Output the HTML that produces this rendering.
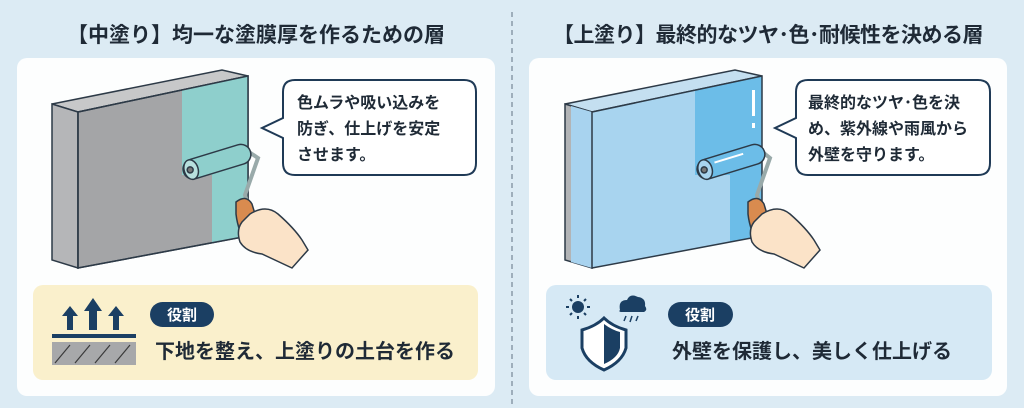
<!DOCTYPE html>
<html><head><meta charset="utf-8"><style>
html,body{margin:0;padding:0;background:#dcebf4;}
svg{display:block}
text{font-family:"Liberation Sans","Noto Sans CJK JP",sans-serif;font-weight:bold;fill:#1f2a36}
</style></head><body>
<svg width="1024" height="408" viewBox="0 0 1024 408" xmlns="http://www.w3.org/2000/svg">
<rect width="1024" height="408" fill="#dcebf4"/>
<line x1="512" y1="12" x2="512" y2="408" stroke="#8a9aa8" stroke-width="1.5" stroke-dasharray="5,4"/>
<text x="256" y="42" font-size="21" text-anchor="middle">【中塗り】均一な塗膜厚を作るための層</text>
<text x="768" y="42" font-size="21" text-anchor="middle" letter-spacing="-0.5">【上塗り】最終的なツヤ･色･耐候性を決める層</text>

<!-- LEFT CARD -->
<rect x="17" y="58" width="478" height="338" rx="10" fill="#fdfefe"/>
<polygon points="52,104 222,70 248,76 78,112" fill="#c7c8c9" stroke="#2d3a47" stroke-width="1.5"/>
<polygon points="52,104 78,112 78,268 52,260" fill="#b5b6b8" stroke="#2d3a47" stroke-width="1.5"/>
<polygon points="78,112 248,76 248,236 78,268" fill="#a4a5a7" stroke="#2d3a47" stroke-width="1.5"/>
<polygon points="182,90 248,76 248,236 212,243 212,175 182,175" fill="#8ecfcc"/>
<polygon points="78,112 248,76 248,236 78,268" fill="none" stroke="#2d3a47" stroke-width="1.5"/>
<g stroke="#2d3a47" stroke-width="1.5">
<path d="M246,150 L258,158 L245,195 L248,205" fill="none" stroke="#9aa" stroke-width="4"/>
<g transform="rotate(-17 216 162)"><rect x="182" y="152" width="70" height="20" rx="10" fill="#8ecfcc"/><ellipse cx="190" cy="162" rx="7" ry="10" fill="#b8e0de"/><circle cx="189" cy="162" r="3" fill="#777"/></g>
<path d="M236,202 Q246,194 252,204 L264,244 Q266,252 258,250 L248,246 Q238,232 236,214 Z" fill="#d98b4f"/>
<path d="M250,214 Q266,204 278,214 Q294,228 302,240 L308,250 L292,268 Q275,260 262,254 Q246,252 240,242 Q236,230 242,222 Z" fill="#fbe3c8"/>
</g>
<path d="M295,80 H464 Q476,80 476,92 V163 Q476,175 464,175 H295 Q283,175 283,163 V138 L262,128 L283,118 V92 Q283,80 295,80 Z" fill="#fff" stroke="#1f3a56" stroke-width="2"/>
<text x="297" y="108" font-size="16">色ムラや吸い込みを</text>
<text x="297" y="134" font-size="16">防ぎ、仕上げを安定</text>
<text x="297" y="160" font-size="16">させます。</text>
<rect x="33" y="285" width="445" height="95" rx="10" fill="#faf0cc"/>
<g fill="#1b3f63">
<polygon points="70,306 62,316 67,316 67,330 73,330 73,316 78,316"/>
<polygon points="93,298 84,311 89,311 89,330 97,330 97,311 102,311"/>
<polygon points="116,306 108,316 113,316 113,330 119,330 119,316 124,316"/>
<rect x="52" y="334" width="84" height="4"/>
</g>
<rect x="52" y="342" width="84" height="23" fill="#a7a8aa"/>
<g stroke="#3a3a3a" stroke-width="1.2"><line x1="55" y1="363" x2="70" y2="345"/><line x1="75" y1="363" x2="90" y2="345"/><line x1="95" y1="363" x2="110" y2="345"/><line x1="115" y1="363" x2="130" y2="345"/></g>
<rect x="150" y="302" width="64" height="25" rx="12.5" fill="#1b3f63"/>
<text x="182" y="320" font-size="15" text-anchor="middle" style="fill:#fff">役割</text>
<text x="155" y="358" font-size="20">下地を整え、上塗りの土台を作る</text>

<!-- RIGHT CARD -->
<rect x="529" y="58" width="478" height="338" rx="10" fill="#fdfefe"/>
<polygon points="565,104 735,70 762,76 592,112" fill="#c4dff0" stroke="#2d3a47" stroke-width="1.5"/>
<polygon points="565,104 592,112 592,268 565,260" fill="#b2b4b6" stroke="#2d3a47" stroke-width="1.5"/>
<polygon points="571,106 592,112 592,268 571,262" fill="#a8d3ef"/>
<polygon points="592,112 762,76 762,236 592,268" fill="#a8d4ef"/>
<polygon points="695,90 762,76 762,236 730,242 730,175 695,175" fill="#6cbde8"/>
<polygon points="592,112 762,76 762,236 592,268" fill="none" stroke="#2d3a47" stroke-width="1.5"/>
<rect x="752" y="90" width="3" height="26" fill="#fff"/><rect x="752" y="123" width="3" height="5" fill="#fff"/>
<g stroke="#2d3a47" stroke-width="1.5">
<path d="M760,150 L770,158 L757,195 L760,205" fill="none" stroke="#9aa" stroke-width="4"/>
<g transform="rotate(-17 730 162)"><rect x="696" y="152" width="70" height="20" rx="10" fill="#6cbde8"/><ellipse cx="704" cy="162" rx="7" ry="10" fill="#a8d4ef"/><circle cx="703" cy="162" r="3" fill="#777"/><line x1="715" y1="158" x2="745" y2="158" stroke="#fff" stroke-width="2"/></g>
<path d="M748,202 Q758,194 764,204 L776,244 Q778,252 770,250 L760,246 Q750,232 748,214 Z" fill="#d98b4f"/>
<path d="M762,214 Q778,204 790,214 Q806,228 814,240 L820,250 L804,268 Q787,260 774,254 Q758,252 752,242 Q748,230 754,222 Z" fill="#fbe3c8"/>
</g>
<path d="M808,80 H978 Q990,80 990,92 V163 Q990,175 978,175 H808 Q796,175 796,163 V138 L775,128 L796,118 V92 Q796,80 808,80 Z" fill="#fff" stroke="#1f3a56" stroke-width="2"/>
<text x="808" y="108" font-size="16">最終的なツヤ･色を決</text>
<text x="808" y="134" font-size="16">め、紫外線や雨風から</text>
<text x="808" y="160" font-size="16">外壁を守ります。</text>
<rect x="546" y="285" width="446" height="95" rx="10" fill="#d6e9f5"/>
<g fill="#1b3f63">
<circle cx="578" cy="307" r="6"/>
<g stroke="#1b3f63" stroke-width="2"><line x1="578" y1="295" x2="578" y2="298"/><line x1="578" y1="316" x2="578" y2="319"/><line x1="566" y1="307" x2="569" y2="307"/><line x1="587" y1="307" x2="590" y2="307"/><line x1="570" y1="299" x2="572" y2="301"/><line x1="584" y1="313" x2="586" y2="315"/><line x1="586" y1="299" x2="584" y2="301"/><line x1="570" y1="315" x2="572" y2="313"/></g>
<path d="M620,310 Q618,300 627,300 Q630,293 638,297 Q646,298 645,306 Q648,310 644,312 H622 Q618,312 620,310 Z"/>
<g stroke="#1b3f63" stroke-width="1.5"><line x1="626" y1="316" x2="624" y2="321"/><line x1="632" y1="316" x2="630" y2="322"/><line x1="638" y1="316" x2="636" y2="321"/></g>
</g>
<path d="M582,330 Q596,326 604,318 Q612,326 626,330 V348 Q622,362 604,370 Q586,362 582,348 Z" fill="#fff" stroke="#1b3f63" stroke-width="3"/>
<path d="M604,324 Q612,330 620,332 V348 Q618,358 604,364 Z" fill="#1b3f63"/>
<rect x="668" y="302" width="65" height="25" rx="12.5" fill="#1b3f63"/>
<text x="700" y="320" font-size="15" text-anchor="middle" style="fill:#fff">役割</text>
<text x="672" y="358" font-size="20">外壁を保護し、美しく仕上げる</text>
</svg>
</body></html>
